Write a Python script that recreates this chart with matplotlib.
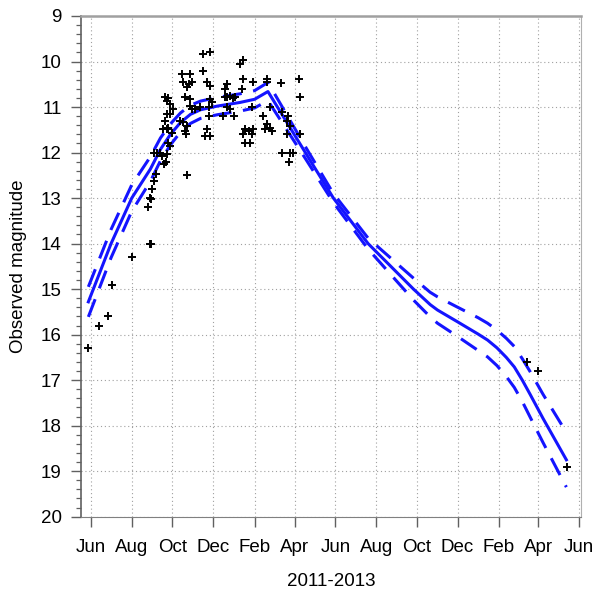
import datetime as dt
import matplotlib
matplotlib.use('Agg')
import matplotlib.pyplot as plt
import matplotlib.dates as mdates
from matplotlib.ticker import MultipleLocator

plt.rcParams['font.family'] = ['Liberation Sans', 'DejaVu Sans']

# visual observations (date, magnitude)
obs_dates = [
    '2011-05-27', '2011-06-13', '2011-06-26', '2011-07-03', '2011-08-01',
    '2011-08-26', '2011-08-28', '2011-08-30', '2011-08-29', '2011-08-30',
    '2011-09-01', '2011-09-03', '2011-09-07', '2011-09-03', '2011-09-08',
    '2011-09-13', '2011-09-15', '2011-09-18', '2011-09-22', '2011-09-23',
    '2011-09-25', '2011-09-28', '2011-09-17', '2011-09-23', '2011-09-25',
    '2011-09-30', '2011-09-20', '2011-09-23', '2011-09-28', '2011-10-02',
    '2011-09-28', '2011-09-23', '2011-09-20', '2011-09-25', '2011-10-12',
    '2011-10-15', '2011-10-17', '2011-10-17', '2011-10-20', '2011-10-20',
    '2011-10-22', '2011-10-22', '2011-10-21', '2011-10-22', '2011-10-25',
    '2011-10-27', '2011-10-27', '2011-10-27', '2011-10-30', '2011-10-30',
    '2011-11-04', '2011-11-11', '2011-11-16', '2011-11-16', '2011-11-19',
    '2011-11-21', '2011-11-21', '2011-11-24', '2011-11-24', '2011-11-26',
    '2011-11-26', '2011-11-26', '2011-11-26', '2011-11-29', '2011-12-16',
    '2011-12-19', '2011-12-19', '2011-12-21', '2011-12-21', '2011-12-21',
    '2011-12-26', '2011-12-26', '2011-12-31', '2012-01-01', '2012-01-03',
    '2012-01-10', '2012-01-14', '2012-01-13', '2012-01-15', '2012-01-15',
    '2012-01-18', '2012-01-18', '2012-01-23', '2012-01-25', '2012-01-28',
    '2012-01-28', '2012-01-29', '2012-01-30', '2012-02-14', '2012-02-17',
    '2012-02-19', '2012-02-20', '2012-02-20', '2012-02-24', '2012-02-24',
    '2012-02-27', '2012-03-11', '2012-03-13', '2012-03-13', '2012-03-20',
    '2012-03-20', '2012-03-22', '2012-03-24', '2012-03-25', '2012-03-25',
    '2012-03-30', '2012-04-07', '2012-04-09', '2012-04-09',
    '2013-03-15', '2013-03-31', '2013-05-14',
]
obs_mags = [
    16.3, 15.8, 15.6, 14.9, 14.3,
    13.19, 14.0, 14.0, 13.0, 13.03,
    12.8, 12.63, 12.48, 12.0, 12.0,
    12.0, 12.08, 12.26, 12.2, 12.04,
    11.78, 11.86, 11.49, 11.49, 11.45,
    11.56, 11.3, 11.16, 11.16, 11.05,
    10.94, 10.87, 10.79, 10.81, 11.3,
    10.28, 10.46, 11.34, 10.79, 11.53,
    10.57, 11.42, 11.6, 12.5, 10.5,
    10.28, 10.83, 10.98, 10.46, 11.05,
    11.05, 11.01, 9.84, 10.2, 11.64,
    10.46, 11.49, 11.01, 11.2, 9.8,
    10.54, 10.83, 11.64, 10.9, 11.2,
    10.79, 10.6, 10.5, 10.77, 11.01,
    11.05, 10.76, 10.81, 11.2, 10.79,
    10.06, 9.96, 10.6, 10.38, 11.6,
    11.49, 11.78, 11.53, 11.8, 11.01,
    11.6, 10.46, 11.49, 11.2, 11.49,
    11.38, 10.38, 10.46, 11.01, 11.45,
    11.53, 10.48, 11.1, 12.0, 11.3,
    11.6, 11.2, 12.2, 11.42, 12.0,
    12.0, 10.38, 10.79, 11.6,
    16.61, 16.81, 18.9,
]

# fitted light curve and its uncertainty band (+/- mag)
model_dates = [
    '2011-05-28', '2011-07-01', '2011-08-01', '2011-08-29', '2011-09-13',
    '2011-09-28', '2011-10-13', '2011-10-28', '2011-11-12', '2011-12-07',
    '2012-01-10', '2012-02-01', '2012-02-21', '2012-04-17', '2012-05-29',
    '2012-07-20', '2012-09-26', '2012-10-21', '2012-11-01', '2012-11-30',
    '2013-01-01', '2013-01-15', '2013-01-29', '2013-02-12', '2013-02-24',
    '2013-03-08', '2013-03-20', '2013-04-08', '2013-05-13',
]
model_mags = [
    15.28, 14.0, 13.0, 12.36, 11.93,
    11.6, 11.34, 11.16, 11.06, 10.98,
    10.9, 10.83, 10.66, 12.0, 13.0,
    14.0, 15.0, 15.34, 15.46, 15.71,
    15.99, 16.12, 16.29, 16.5, 16.71,
    17.0, 17.32, 17.84, 18.75,
]
model_spread = [
    0.33, 0.31, 0.29, 0.27, 0.25,
    0.23, 0.21, 0.2, 0.19, 0.19,
    0.19, 0.19, 0.2, 0.13, 0.1,
    0.12, 0.24, 0.27, 0.29, 0.32,
    0.36, 0.37, 0.39, 0.42, 0.45,
    0.47, 0.5, 0.53, 0.6,
]


def to_dates(strings):
    return [dt.datetime.strptime(s, '%Y-%m-%d') for s in strings]


def main():
    fig = plt.figure(figsize=(5.94, 5.92), dpi=100)
    ax = fig.add_axes([0.1364, 0.1272, 0.8418, 0.8458])

    mx = to_dates(model_dates)
    upper = [m - s for m, s in zip(model_mags, model_spread)]
    lower = [m + s for m, s in zip(model_mags, model_spread)]

    blue = '#1414ff'
    dash = (6.2, 3.8)
    ax.plot(mx, upper, color=blue, lw=2.2, dashes=dash, zorder=2)
    ax.plot(mx, model_mags, color=blue, lw=2.2, zorder=2)
    ax.plot(mx, lower, color=blue, lw=2.2, dashes=dash, zorder=2)

    ax.plot(to_dates(obs_dates), obs_mags, '+', color='black',
            ms=6, mew=1.4, zorder=3)

    ax.set_xlim(dt.datetime(2011, 5, 17), dt.datetime(2013, 6, 4))
    ax.set_ylim(20, 9)

    ax.xaxis.set_major_locator(mdates.MonthLocator(bymonth=[2, 4, 6, 8, 10, 12]))
    ax.xaxis.set_major_formatter(mdates.DateFormatter('%b'))
    ax.yaxis.set_major_locator(MultipleLocator(1))
    ax.yaxis.set_minor_locator(MultipleLocator(0.2))

    ax.grid(True, which='major', color='#a0a0a0', lw=0.8, linestyle=(0, (1, 2.5)))

    ax.tick_params(which='both', direction='out', colors='#606060',
                   labelcolor='black', labelsize=13.5)
    ax.tick_params(axis='y', which='major', length=7, width=1.0, pad=7)
    ax.tick_params(axis='y', which='minor', length=3.5, width=0.9)
    ax.tick_params(axis='x', which='major', length=7, width=1.0, pad=9)

    ax.spines['left'].set_color('#606060')
    ax.spines['left'].set_linewidth(1.2)
    ax.spines['bottom'].set_color('#808080')
    ax.spines['top'].set_color('#a0a0a0')
    ax.spines['top'].set_linewidth(1.8)
    ax.spines['right'].set_color('#b0b0b0')

    ax.set_ylabel('Observed magnitude', fontsize=13.5, labelpad=10)
    ax.set_xlabel('2011-2013', fontsize=13.5, labelpad=12)

    fig.savefig('out.png', dpi=100)


if __name__ == '__main__':
    main()
